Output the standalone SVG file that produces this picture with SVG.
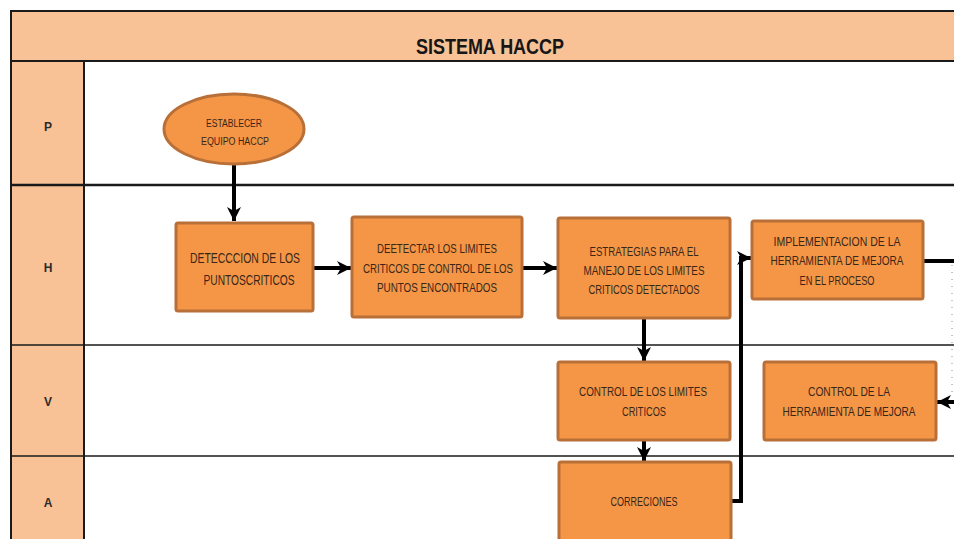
<svg xmlns="http://www.w3.org/2000/svg" width="954" height="539" viewBox="0 0 954 539">
  <defs>
    <marker id="arrow" markerUnits="userSpaceOnUse" markerWidth="16" markerHeight="16" viewBox="0 0 16 16" refX="14" refY="8" orient="auto">
      <path d="M0,1 L14,8 L0,15 L4,8 Z" fill="#000"/>
    </marker>
    <style>
      .lane { fill: #F8C196; stroke: #1a1a1a; stroke-width: 2; }
      .sep { stroke: #1a1a1a; stroke-width: 1.6; }
      .lbl { font-family: "Liberation Sans", Arial, sans-serif; font-weight: bold; font-size: 12px; fill: #2b2b2b; text-anchor: middle; }
      .title { font-family: "Liberation Sans Narrow", "Liberation Sans", Arial, sans-serif; font-weight: bold; font-size: 22px; fill: #161616; text-anchor: middle; }
      .box { fill: #F49646; stroke: #B96F38; stroke-width: 3; }
      .txt { font-family: "Liberation Sans Narrow", "Liberation Sans", Arial, sans-serif; font-size: 13px; fill: #3a2618; text-anchor: middle; }
      .conn { fill: none; stroke: #000; stroke-width: 4; }
    </style>
  </defs>

  <rect x="0" y="0" width="954" height="539" fill="#fff"/>

  <!-- swimlane frame -->
  <g id="frame">
    <rect class="lane" x="11" y="11" width="960" height="50"/>
    <text class="title" x="490" y="54" textLength="148" lengthAdjust="spacingAndGlyphs">SISTEMA HACCP</text>
    <rect class="lane" x="11" y="61" width="73" height="490"/>
    <line class="sep" x1="11" y1="185" x2="960" y2="185" style="stroke-width:2.6"/>
    <line class="sep" x1="11" y1="345" x2="960" y2="345"/>
    <line class="sep" x1="11" y1="456" x2="960" y2="456"/>
    <text class="lbl" x="48" y="131">P</text>
    <text class="lbl" x="48" y="272">H</text>
    <text class="lbl" x="48" y="406">V</text>
    <text class="lbl" x="48" y="507">A</text>
  </g>

  <!-- connectors -->
  <g id="connectors">
    <path class="conn" d="M234,165 V221" marker-end="url(#arrow)"/>
    <path class="conn" d="M313,268 H351" marker-end="url(#arrow)"/>
    <path class="conn" d="M521,268 H557" marker-end="url(#arrow)"/>
    <path class="conn" d="M644,318 V361" marker-end="url(#arrow)"/>
    <path class="conn" d="M644,440 V461" marker-end="url(#arrow)"/>
    <path class="conn" d="M731,501 H741 V258 H751" marker-end="url(#arrow)"/>
    <path class="conn" d="M923,261 H958 V402 H937" marker-end="url(#arrow)"/>
    <line x1="952" y1="265" x2="952" y2="398" stroke="#888" stroke-width="1" stroke-dasharray="1 6"/>
  </g>

  <g id="n-establecer">
    <ellipse class="box" cx="234" cy="129" rx="70" ry="35"/>
    <text class="txt" style="font-size:10px" x="234" y="127" textLength="56" lengthAdjust="spacingAndGlyphs">ESTABLECER</text>
    <text class="txt" style="font-size:10px" x="235" y="145" textLength="68" lengthAdjust="spacingAndGlyphs">EQUIPO HACCP</text>
  </g>

  <g id="n-deteccion">
    <rect class="box" x="176" y="223" width="137" height="88" rx="2"/>
    <text class="txt" style="font-size:15px" x="245" y="263" textLength="110" lengthAdjust="spacingAndGlyphs">DETECCCION DE LOS</text>
    <text class="txt" style="font-size:15px" x="249" y="285" textLength="91" lengthAdjust="spacingAndGlyphs">PUNTOSCRITICOS</text>
  </g>

  <g id="n-detectar">
    <rect class="box" x="352" y="217" width="170" height="100" rx="2"/>
    <text class="txt" x="437" y="253" textLength="120" lengthAdjust="spacingAndGlyphs">DEETECTAR   LOS LIMITES</text>
    <text class="txt" x="438" y="273" textLength="150" lengthAdjust="spacingAndGlyphs">CRITICOS DE CONTROL DE LOS</text>
    <text class="txt" x="437" y="292" textLength="120" lengthAdjust="spacingAndGlyphs">PUNTOS ENCONTRADOS</text>
  </g>

  <g id="n-estrategias">
    <rect class="box" x="558" y="218" width="172" height="100" rx="2"/>
    <text class="txt" x="644" y="256" textLength="109" lengthAdjust="spacingAndGlyphs">ESTRATEGIAS  PARA EL</text>
    <text class="txt" x="644" y="275" textLength="121" lengthAdjust="spacingAndGlyphs">MANEJO DE LOS LIMITES</text>
    <text class="txt" x="644" y="294" textLength="111" lengthAdjust="spacingAndGlyphs">CRITICOS DETECTADOS</text>
  </g>

  <g id="n-implementacion">
    <rect class="box" x="752" y="221" width="171" height="78" rx="2"/>
    <text class="txt" x="837" y="246" textLength="127" lengthAdjust="spacingAndGlyphs">IMPLEMENTACION DE LA</text>
    <text class="txt" x="837" y="265" textLength="133" lengthAdjust="spacingAndGlyphs">HERRAMIENTA DE MEJORA</text>
    <text class="txt" x="837" y="285" textLength="75" lengthAdjust="spacingAndGlyphs">EN EL PROCESO</text>
  </g>

  <g id="n-control-limites">
    <rect class="box" x="558" y="362" width="172" height="78" rx="2"/>
    <text class="txt" x="643" y="396" textLength="128" lengthAdjust="spacingAndGlyphs">CONTROL  DE LOS LIMITES</text>
    <text class="txt" x="644" y="416" textLength="44" lengthAdjust="spacingAndGlyphs">CRITICOS</text>
  </g>

  <g id="n-control-herramienta">
    <rect class="box" x="764" y="362" width="172" height="78" rx="2"/>
    <text class="txt" x="849" y="396" textLength="82" lengthAdjust="spacingAndGlyphs">CONTROL  DE LA</text>
    <text class="txt" x="849" y="416" textLength="133" lengthAdjust="spacingAndGlyphs">HERRAMIENTA  DE MEJORA</text>
  </g>

  <g id="n-correciones">
    <rect class="box" x="559" y="462" width="172" height="80" rx="2"/>
    <text class="txt" x="644" y="506" textLength="67" lengthAdjust="spacingAndGlyphs">CORRECIONES</text>
  </g>
</svg>
